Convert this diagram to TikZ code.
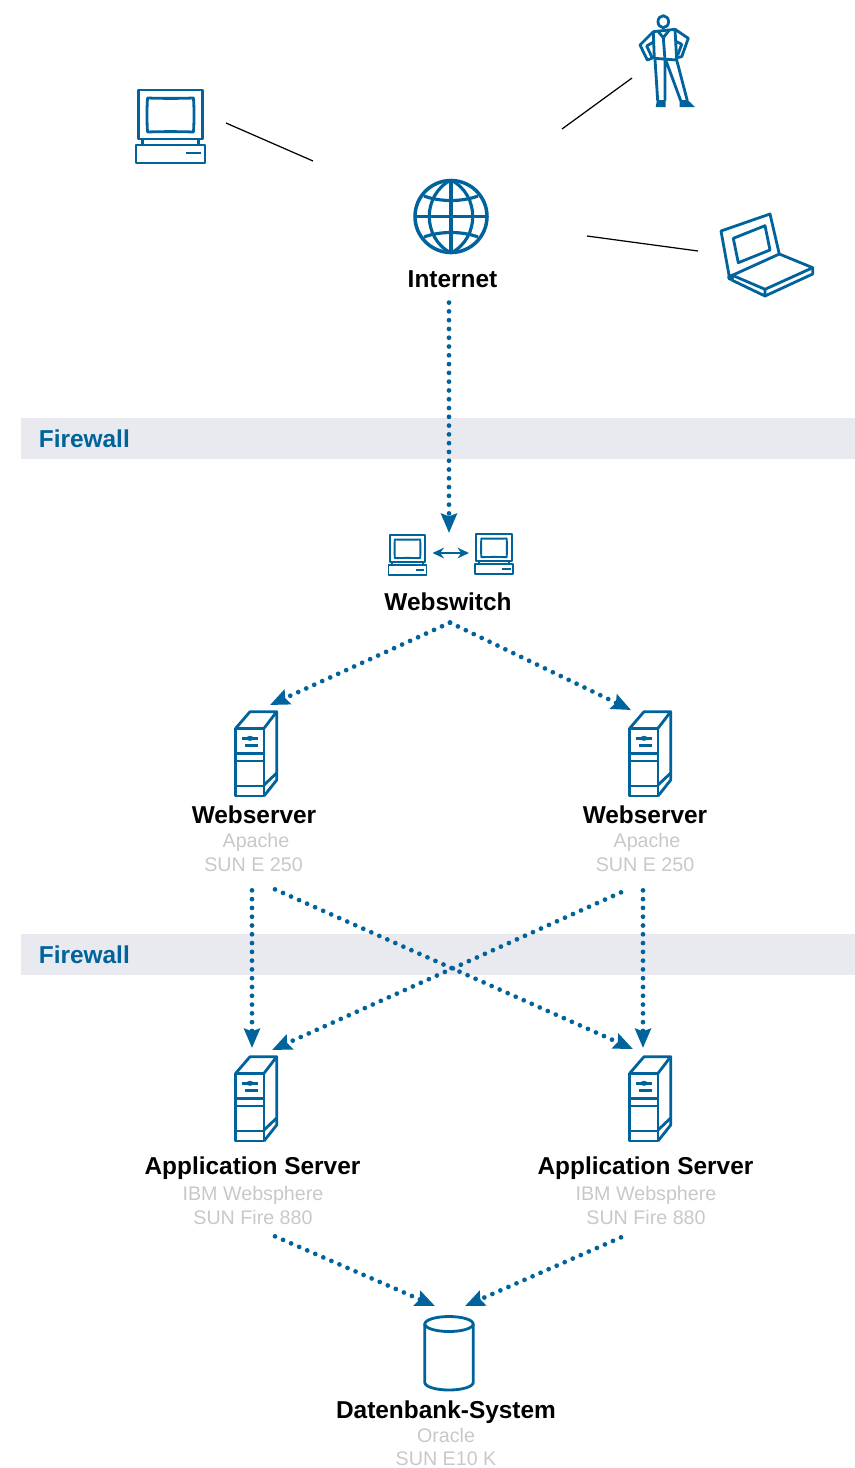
\documentclass[tikz,border=0pt]{standalone}
\usepackage{fontspec}
\setmainfont{Liberation Sans}
\usetikzlibrary{arrows.meta}
\definecolor{netblue}{RGB}{0,99,156}
\definecolor{bandgray}{RGB}{233,234,239}
\definecolor{subgray}{RGB}{200,200,200}
\tikzset{
	title/.style={anchor=base, inner sep=0pt, font=\bfseries\fontsize{13.9}{16}\selectfont},
	subtitle/.style={anchor=base, inner sep=0pt, text depth=0pt, text=subgray, font=\fontsize{11.2}{13}\selectfont},
	band/.style={fill=bandgray, draw=none, inner sep=0pt, minimum width=16.68cm, minimum height=0.82cm},
	iconbox/.style={inner sep=0pt, outer sep=0pt, draw=none},
	iconline/.style={color=netblue, line width=1.6pt, line join=round},
	flow/.style={color=netblue, line width=2.7pt, line cap=round, dash pattern=on 0pt off 5pt,
		-{Stealth[length=11pt, width=9pt, inset=1.5pt]}},
	wire/.style={black, line width=0.7pt},
	desktop/.pic={
		\draw (-32,-37) rectangle (32,12);
		\draw (-23,-29) .. controls (-10,-28.5) and (10,-28.5) .. (23,-29)
			.. controls (23.7,-18) and (23.7,-6) .. (23,5)
			.. controls (10,4.5) and (-10,4.5) .. (-23,5)
			.. controls (-23.7,-6) and (-23.7,-18) .. (-23,-29) -- cycle;
		\draw (-28,12) -- (-28,18) (28,12) -- (28,18);
		\draw (-34.5,18) rectangle (34.5,36);
		\draw (15,26) -- (30,26);
	},
	server/.pic={
		\draw (-20.3,-25.7) rectangle (8,42);
		\draw (-20.3,-25.7) -- (-6,-42.3) -- (20.7,-42.3) -- (8,-25.7);
		\draw (20.7,-42.3) -- (20.7,26) -- (8,42);
		\draw (-20.3,-0.7) -- (8,-0.7) (-20.3,7) -- (8,7) (-20.3,32) -- (8,32);
		\draw (8,31) -- (20.7,19);
		\draw (-14,-15.7) -- (1.7,-15.7) (-11,-8.3) -- (1.7,-8.3);
		\fill (-6,-15.7) ellipse [x radius=3.5, y radius=2.5];
	}
}

\begin{document}
\begin{tikzpicture}[x=0.02cm, y=-0.02cm]
	\useasboundingbox (0,0) rectangle (855,1468);

	% firewalls
	\node [band] (bandA) at (438,438.5) {};
	\node [band] (bandB) at (438,954.5) {};
	\node [title, anchor=base west, text=netblue] (firewallA) at (38.5,447) {Firewall};
	\node [title, anchor=base west, text=netblue] (firewallB) at (38.5,963) {Firewall};

	% clients
	\node [iconbox, minimum width=2.22cm, minimum height=1.5cm] (pc) at (170.5,127) {};
	\pic [iconline] at (pc) {desktop};
	\node [iconbox, minimum width=1.36cm, minimum height=1.86cm] (person) at (666,60) {};
	\draw [iconline] (663.3,21.7) ellipse [x radius=5.3, y radius=6];
	\draw [iconline] (653.3,31.7) -- (675,29.3) -- (676.7,60) -- (654.3,58.3) -- cycle;
	\draw [iconline] (658.3,31.7) -- (663.3,37.7) -- (669.3,30) (663.3,37.7) -- (665,60);
	\draw [iconline] (653.3,31.7) -- (640,45) -- (647.3,60) -- (653.3,57.7) (654,41.7) -- (646.7,46) -- (651.7,56.7);
	\draw [iconline] (675,29.3) -- (688.3,38.3) -- (681.7,56.7) -- (676.7,57.7) (676.7,41.7) -- (681.7,44.3) -- (677.7,55);
	\draw [iconline] (655,59.3) -- (657.7,100.7) (665,100.7) -- (665,60) (666,60.7) -- (680.7,100.7) (676.7,60) -- (687.3,100.7);
	\fill [netblue] (655.7,107) -- (657,100) -- (665.7,100) -- (665.7,107) -- cycle;
	\fill [netblue] (679.5,100) -- (687.7,100) -- (695,107) -- (679.5,107) -- cycle;
	\node [iconbox, minimum width=2.32cm, minimum height=1.68cm] (laptop) at (756,255) {};
	\draw [iconline] (721,231) -- (770,214) -- (779.3,254) -- (729.3,276.7) -- cycle;
	\draw [iconline] (733.3,238.3) -- (765,225.7) -- (770,250) -- (738.3,262.7) -- cycle;
	\draw [iconline] (779.3,254) -- (812.7,267.7) -- (765,289.3) -- (731.7,275);
	\draw [iconline] (812.7,267.7) -- (812.7,274) -- (765,296) -- (731.7,280) (765,289.3) -- (765,296);
	\fill [netblue] (730.7,277.3) circle (3.5);

	% internet
	\node [iconbox, minimum size=1.5cm] (globe) at (451,216.5) {};
	\draw [iconline, line width=2pt] (globe) circle (36);
	\draw [iconline, line width=1.8pt] (451,180) -- (451,253) (414.5,216.5) -- (487.5,216.5);
	\draw [iconline, line width=1.8pt] (451,180) .. controls (480,195) and (480,238) .. (451,253);
	\draw [iconline, line width=1.8pt] (451,180) .. controls (422,195) and (422,238) .. (451,253);
	\draw [iconline, line width=1.8pt] (424,196) .. controls (440,202) and (462,202) .. (478,196);
	\draw [iconline, line width=1.8pt] (424,237) .. controls (440,231) and (462,231) .. (478,237);
	\node [title] (internet) at (452.5,287) {Internet};
	\coordinate (pcEnd) at (313,161);
	\coordinate (personEnd) at (562,129);
	\coordinate (laptopEnd) at (587,236);

	% webswitch
	\node [iconbox, minimum width=1cm, minimum height=0.8cm] (switchA) at (407.5,553) {};
	\node [iconbox, minimum width=1cm, minimum height=0.8cm] (switchB) at (494,553) {};
	\node [iconbox, minimum width=0.8cm, minimum height=0.88cm] (switchPair) at (449,555) {};
	\pic [iconline, scale=0.55, line width=1.1pt] at (407.5,555.4) {desktop};
	\pic [iconline, scale=0.55, line width=1.1pt] at (494,554.4) {desktop};
	\node [title] (webswitch) at (448,610) {Webswitch};

	% webserver
	\node [iconbox, minimum width=1cm, minimum height=1.96cm] (webA) at (256,754) {};
	\node [iconbox, minimum width=1cm, minimum height=1.96cm] (webB) at (650,754) {};
	\pic [iconline] at (webA) {server};
	\pic [iconline] at (webB) {server};
	\node [title] (webTitleA) at (254,823) {Webserver};
	\node [subtitle] (apacheA) at (256,847) {Apache};
	\node [subtitle] (sunA) at (253.5,871) {SUN E 250};
	\node [title] (webTitleB) at (645,823) {Webserver};
	\node [subtitle] (apacheB) at (647,847) {Apache};
	\node [subtitle] (sunB) at (645,871) {SUN E 250};

	% application server
	\node [iconbox, minimum width=1cm, minimum height=2.04cm] (appA) at (256,1099) {};
	\node [iconbox, minimum width=1cm, minimum height=2.04cm] (appB) at (650,1099) {};
	\pic [iconline] at (appA) {server};
	\pic [iconline] at (appB) {server};
	\node [title] (appTitleA) at (252.5,1174) {Application Server};
	\node [subtitle] (ibmA) at (253,1200) {IBM Websphere};
	\node [subtitle] (fireA) at (253,1224) {SUN Fire 880};
	\node [title] (appTitleB) at (645.5,1174) {Application Server};
	\node [subtitle] (ibmB) at (646,1200) {IBM Websphere};
	\node [subtitle] (fireB) at (646,1224) {SUN Fire 880};

	% database
	\node [iconbox, minimum width=1cm, minimum height=1.88cm] (db) at (449,1353) {};
	\draw [iconline] (449,1324) ellipse [x radius=24.2, y radius=7.5];
	\draw [iconline] (424.8,1324) -- (424.8,1382.5) arc [start angle=180, end angle=360, x radius=24.2, y radius=-7.5] -- (473.2,1324);
	\node [title] (dbTitle) at (446,1418) {Datenbank-System};
	\node [subtitle] (oracle) at (446,1442) {Oracle};
	\node [subtitle] (sunC) at (446,1465) {SUN E10 K};

	% connectors
	\draw [wire] ([shift={(0,-4)}]pc.east) -- (pcEnd);
	\draw [wire] ([shift={(0,18)}]person.west) -- (personEnd);
	\draw [wire] ([shift={(0,-4)}]laptop.west) -- (laptopEnd);
	\draw [flow] ([shift={(-3.5,15)}]internet.south) -- (switchPair.north);
	\draw [color=netblue, line width=1.6pt, {Stealth[length=6.5pt, width=6pt]}-{Stealth[length=6.5pt, width=6pt]}] (switchA.east) -- (switchB.west);
	\draw [flow] ([shift={(2,12)}]webswitch.south) -- ([shift={(14,0)}]webA.north);
	\draw [flow] ([shift={(2,12)}]webswitch.south) -- ([shift={(-19,5)}]webB.north);
	\draw [flow] ([shift={(-1.5,19)}]sunA.south) -- ([shift={(-4,0)}]appA.north);
	\draw [flow] ([shift={(21.5,18)}]sunA.south) -- ([shift={(-17,1)}]appB.north);
	\draw [flow] ([shift={(-24,21)}]sunB.south) -- ([shift={(16,2)}]appA.north);
	\draw [flow] ([shift={(-2,19)}]sunB.south) -- ([shift={(-7,0)}]appB.north);
	\draw [flow] ([shift={(22,12)}]fireA.south) -- ([shift={(-14,0)}]db.north);
	\draw [flow] ([shift={(-25,13)}]fireB.south) -- ([shift={(16,0)}]db.north);
\end{tikzpicture}
\end{document}
